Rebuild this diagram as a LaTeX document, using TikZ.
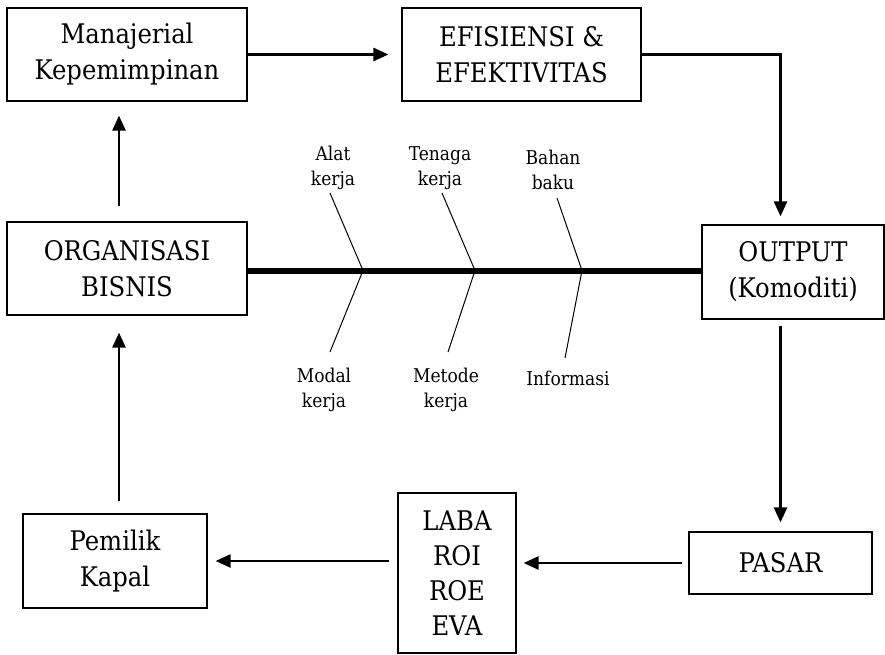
\documentclass[tikz,border=0pt]{standalone}
\usepackage{fontspec}
\setmainfont{DejaVu Serif Condensed}
\usetikzlibrary{arrows.meta}
\begin{document}
\begin{tikzpicture}[x=1pt,y=-1pt,
  box/.style={draw, line width=1.2pt, inner sep=0pt, align=center,
    font=\fontsize{27}{36}\selectfont},
  lbl/.style={inner sep=0pt, align=center, font=\fontsize{19}{25}\selectfont},
  arr/.style={line width=2.6pt, -{Triangle[length=15pt,width=13pt]}},
  spine/.style={line width=6pt},
  bone/.style={line width=1pt}]
\useasboundingbox (0,0) rectangle (885,655);

% boxes
\node[box, minimum width=240pt, minimum height=93pt] (man) at (127,54.5) {Manajerial\\Kepemimpinan};
\node[box, minimum width=239pt, minimum height=93pt] (efi) at (521.5,54.5) {EFISIENSI \&\\EFEKTIVITAS};
\node[box, minimum width=240pt, minimum height=93pt] (org) at (127,268.5) {ORGANISASI\\BISNIS};
\node[box, minimum width=182pt, minimum height=94pt] (out) at (793,272) {OUTPUT\\(Komoditi)};
\node[box, minimum width=183pt, minimum height=62pt] (pasar) at (780.5,563) {PASAR};
\node[box, minimum width=118pt, minimum height=160pt, font=\fontsize{27}{35}\selectfont] (laba) at (457,573) {LABA\\ROI\\ROE\\EVA};
\node[box, minimum width=184pt, minimum height=94pt] (pem) at (115,561) {Pemilik\\Kapal};

% reference columns for the vertical arrows
\coordinate (lx) at (119,0);
\coordinate (rx) at (780.5,0);
\coordinate (sy) at (0,270.5);

% flow arrows
\draw[arr, shorten >=13pt] (man.east) -- (man.east -| efi.west);
\draw[arr, shorten >=8pt] (efi.east) -| (out.north -| rx);
\draw[arr, shorten <=6pt, shorten >=9pt] (out.south -| rx) -- (pasar.north -| rx);
\draw[arr, shorten <=6pt, shorten >=7pt] (pasar.west) -- (pasar.west -| laba.east);
\draw[arr, shorten <=8pt, shorten >=8pt] (laba.west |- pem.east) -- (pem.east);
\draw[arr, shorten <=12pt, shorten >=17pt] (pem.north -| lx) -- (org.south -| lx);
\draw[arr, shorten <=15pt, shorten >=14pt] (org.north -| lx) -- (man.south -| lx);

% fishbone spine
\draw[spine] (org.east |- sy) -- (out.west |- sy);

% bone junctions and free ends
\coordinate (j1) at (363,270.5);
\coordinate (j2) at (475,270.5);
\coordinate (j3) at (582,270.5);
\coordinate (u1) at (330,193);
\coordinate (u2) at (442,193);
\coordinate (u3) at (557,198);
\coordinate (d1) at (330,352);
\coordinate (d2) at (448,352);
\coordinate (d3) at (565,358);

\draw[bone] (u1) -- (j1) -- (d1);
\draw[bone] (u2) -- (j2) -- (d2);
\draw[bone] (u3) -- (j3) -- (d3);

% bone labels
\node[lbl] (alat) at (333,168) {Alat\\kerja};
\node[lbl] (tenaga) at (440,168) {Tenaga\\kerja};
\node[lbl] (bahan) at (553,170) {Bahan\\baku};
\node[lbl] (modal) at (324,390) {Modal\\kerja};
\node[lbl] (metode) at (446,390) {Metode\\kerja};
\node[lbl] (info) at (568,378) {Informasi};
\end{tikzpicture}
\end{document}
